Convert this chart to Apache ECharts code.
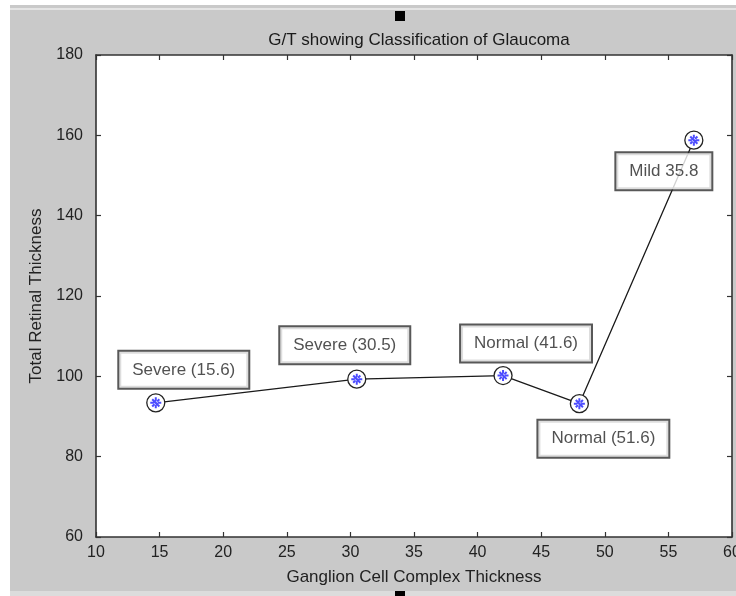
<!DOCTYPE html>
<html>
<head>
<meta charset="utf-8">
<script src="https://cdn.jsdelivr.net/npm/echarts@6/dist/echarts.min.js"></script>
<style>
  html, body { margin: 0; padding: 0; background: #c9c9c9; }
  #chart { width: 736px; height: 596px; }
</style>
</head>
<body>
<div id="chart"></div>
<script>
// ganglion cell complex thickness (x) vs total retinal thickness (y)
var gccThickness = [14.7, 30.5, 42.0, 48.0, 57.0];
var retinalThickness = [93.4, 99.3, 100.2, 93.2, 158.8];
var classLabels = ['Severe (15.6)', 'Severe (30.5)', 'Normal (41.6)', 'Normal (51.6)', 'Mild 35.8'];

// where each text box sits relative to its point (px)
var boxOffsets = [[28, -33], [-12, -34], [23, -32], [24, 35], [-30, 31]];

var fontName = 'Liberation Sans, Arial, sans-serif';
var points = gccThickness.map(function (x, i) { return [x, retinalThickness[i]]; });

var starPath = 'path://M-0.9,-5L0.9,-5L0.9,5L-0.9,5Z M-5,-0.9L5,-0.9L5,0.9L-5,0.9Z ' +
  'M-3.9,-2.6L-2.6,-3.9L3.9,2.6L2.6,3.9Z M3.9,-2.6L2.6,-3.9L-3.9,2.6L-2.6,3.9Z';

var chart = echarts.init(document.getElementById('chart'));

var axisLine = { lineStyle: { color: '#333', width: 1.6 } };
var tick = { inside: true, length: 5, lineStyle: { color: '#333', width: 1.2 } };

chart.setOption({
  backgroundColor: '#c9c9c9',
  animation: false,
  title: {
    text: 'G/T showing Classification of Glaucoma',
    left: 414,
    textAlign: 'center',
    top: 27,
    textStyle: { fontFamily: fontName, fontSize: 17, fontWeight: 'normal', color: '#1a1a1a' }
  },
  grid: {
    left: 96, right: 4, top: 55, bottom: 59, outerBoundsMode: 'none',
    show: true, backgroundColor: '#fff', borderWidth: 0
  },
  xAxis: [
    {
      type: 'value', min: 10, max: 60, interval: 5, position: 'bottom',
      name: 'Ganglion Cell Complex Thickness', nameLocation: 'middle', nameGap: 32,
      nameTextStyle: { fontFamily: fontName, fontSize: 17, color: '#222' },
      axisLine: axisLine, axisTick: tick, splitLine: { show: false },
      axisLabel: { fontFamily: fontName, fontSize: 16, color: '#222', margin: 8 }
    },
    {
      type: 'value', min: 10, max: 60, interval: 5, position: 'top',
      axisLine: axisLine, axisTick: tick, splitLine: { show: false }, axisLabel: { show: false }
    }
  ],
  yAxis: [
    {
      type: 'value', min: 60, max: 180, interval: 20, position: 'left',
      name: 'Total Retinal Thickness', nameLocation: 'middle', nameGap: 51,
      nameTextStyle: { fontFamily: fontName, fontSize: 17, color: '#222' },
      axisLine: axisLine, axisTick: tick, splitLine: { show: false },
      axisLabel: { fontFamily: fontName, fontSize: 16, color: '#222', margin: 13 }
    },
    {
      type: 'value', min: 60, max: 180, interval: 20, position: 'right',
      axisLine: axisLine, axisTick: tick, splitLine: { show: false }, axisLabel: { show: false }
    }
  ],
  graphic: [
    { type: 'rect', left: 0, top: 0, shape: { width: 10, height: 596 }, style: { fill: '#ffffff' } },
    { type: 'rect', left: 0, top: 0, shape: { width: 736, height: 5 }, style: { fill: '#ffffff' } },
    { type: 'rect', left: 10, top: 8, shape: { width: 726, height: 2 }, style: { fill: '#e4e4e4' } },
    { type: 'rect', left: 10, top: 591, shape: { width: 726, height: 5 }, style: { fill: '#dcdcdc' } },
    { type: 'rect', left: 395, top: 11, shape: { width: 10, height: 10 }, style: { fill: '#000' } },
    { type: 'rect', left: 395, top: 591, shape: { width: 10, height: 5 }, style: { fill: '#000' } }
  ],
  series: [
    {
      type: 'line',
      data: points,
      symbol: 'circle',
      symbolSize: 18,
      lineStyle: { color: '#1a1a1a', width: 1.3 },
      itemStyle: { color: '#ffffff', borderColor: '#222', borderWidth: 1.3 },
      z: 2
    },
    {
      type: 'scatter',
      data: points.map(function (p, i) {
        return {
          value: p,
          label: {
            show: true,
            formatter: classLabels[i],
            position: 'inside',
            offset: boxOffsets[i]
          }
        };
      }),
      symbol: starPath,
      symbolSize: 11,
      itemStyle: { color: '#1f1fff' },
      label: {
        fontFamily: fontName, fontSize: 17, color: '#262626',
        textBorderWidth: 0, textShadowBlur: 0,
        shadowBlur: 0, shadowColor: 'rgba(0,0,0,0)',
        backgroundColor: '#fff', borderColor: '#2e2e2e', borderWidth: 2,
        padding: [10, 13, 9, 13]
      },
      z: 3
    }
  ]
});
</script>
</body>
</html>
